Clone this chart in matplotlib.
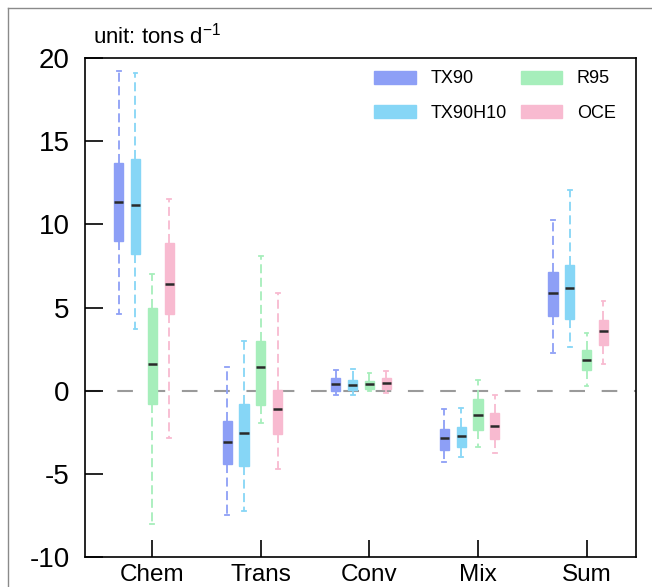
import numpy as np
import matplotlib
matplotlib.use("Agg")
import matplotlib.pyplot as plt
from matplotlib.patches import Patch
from matplotlib.lines import Line2D

plt.rcParams['font.family'] = ['Liberation Sans', 'DejaVu Sans']
plt.rcParams['mathtext.fontset'] = 'custom'
plt.rcParams['mathtext.rm'] = 'Liberation Sans'
plt.rcParams['mathtext.default'] = 'regular'
plt.rcParams['axes.unicode_minus'] = False

categories = ['Chem', 'Trans', 'Conv', 'Mix', 'Sum']
series = ['TX90', 'TX90H10', 'R95', 'OCE']
colors = ['#8d9ff6', '#86d6f6', '#a6eebb', '#f8bad0']

# per series: lower whisker, q1, median, q3, upper whisker for each category
tx90_lo  = [4.6, -7.5, -0.28, -4.27, 2.29]
tx90_q1  = [9.0, -4.42, -0.02, -3.56, 4.47]
tx90_med = [11.35, -3.06, 0.42, -2.82, 5.85]
tx90_q3  = [13.7, -1.85, 0.78, -2.31, 7.12]
tx90_hi  = [19.2, 1.4, 1.27, -1.1, 10.26]

h10_lo  = [3.7, -7.26, -0.28, -3.98, 2.6]
h10_q1  = [8.2, -4.55, 0.02, -3.36, 4.28]
h10_med = [11.15, -2.53, 0.34, -2.72, 6.17]
h10_q3  = [13.9, -0.8, 0.66, -2.17, 7.56]
h10_hi  = [19.1, 3.0, 1.31, -1.05, 12.07]

r95_lo  = [-8.0, -1.95, -0.04, -3.4, 0.3]
r95_q1  = [-0.8, -0.85, 0.1, -2.35, 1.23]
r95_med = [1.6, 1.4, 0.4, -1.45, 1.83]
r95_q3  = [5.0, 3.0, 0.58, -0.52, 2.47]
r95_hi  = [7.0, 8.07, 1.07, 0.62, 3.46]

oce_lo  = [-2.85, -4.7, -0.16, -3.72, 1.59]
oce_q1  = [4.6, -2.6, 0.08, -2.88, 2.73]
oce_med = [6.4, -1.13, 0.46, -2.11, 3.56]
oce_q3  = [8.85, 0.04, 0.78, -1.35, 4.27]
oce_hi  = [11.5, 5.87, 1.19, -0.28, 5.39]

stats = [
    (tx90_lo, tx90_q1, tx90_med, tx90_q3, tx90_hi),
    (h10_lo, h10_q1, h10_med, h10_q3, h10_hi),
    (r95_lo, r95_q1, r95_med, r95_q3, r95_hi),
    (oce_lo, oce_q1, oce_med, oce_q3, oce_hi),
]
offsets = [-2, -1, 0, 1]
step = 0.155

fig = plt.figure(figsize=(6.52, 5.87), dpi=100)
ax = fig.add_axes([85 / 652, 1 - 557 / 587, 551 / 652, 499 / 587])

ax.axhline(0, color='#9a9a9a', lw=1.5, dashes=(7.5, 8), zorder=0)

x = np.arange(1, len(categories) + 1)
for s, (lo, q1, med, q3, hi), c, off in zip(series, stats, colors, offsets):
    bx = [dict(whislo=lo[i], q1=q1[i], med=med[i], q3=q3[i], whishi=hi[i], fliers=[])
          for i in range(len(categories))]
    ax.bxp(bx, positions=x + off * step, widths=0.085, capwidths=0.035,
           patch_artist=True, showfliers=False, manage_ticks=False,
           boxprops=dict(facecolor=c, edgecolor=c, lw=1),
           whiskerprops=dict(color=c, lw=1.3, dashes=(5, 2.5)),
           capprops=dict(color=c, lw=1.3),
           medianprops=dict(color='#2a2a2a', lw=1.8))

ax.set_xlim(0.38, 5.455)
ax.set_ylim(-10, 20)
ax.set_xticks(x)
ax.set_xticklabels(categories, fontsize=17.5)
ax.set_yticks([-10, -5, 0, 5, 10, 15, 20])
ax.tick_params(axis='y', direction='in', length=13, width=1.2, labelsize=20, pad=11)
ax.tick_params(axis='x', direction='in', length=12, width=1.2, pad=5)
for sp in ax.spines.values():
    sp.set_linewidth(1.2)

ax.text(0.015, 1.02, 'unit: tons d$^{-1}$', transform=ax.transAxes, fontsize=16,
        ha='left', va='bottom')

handles = [Patch(facecolor=c, edgecolor=c) for c in colors]
ax.legend(handles, series, ncol=2, loc='upper left', bbox_to_anchor=(0.525, 0.975),
          frameon=False, fontsize=13, handlelength=2.3, handleheight=0.75,
          handletextpad=0.8, columnspacing=0.8, labelspacing=0.95,
          borderpad=0, borderaxespad=0)

# outer frame of the figure panel
fig.add_artist(Line2D([8 / 652, 1], [1 - 8 / 587, 1 - 8 / 587], color='#8a8a8a', lw=1))
fig.add_artist(Line2D([8 / 652, 8 / 652], [0, 1 - 8 / 587], color='#8a8a8a', lw=1))

fig.savefig('out.png', dpi=100)
